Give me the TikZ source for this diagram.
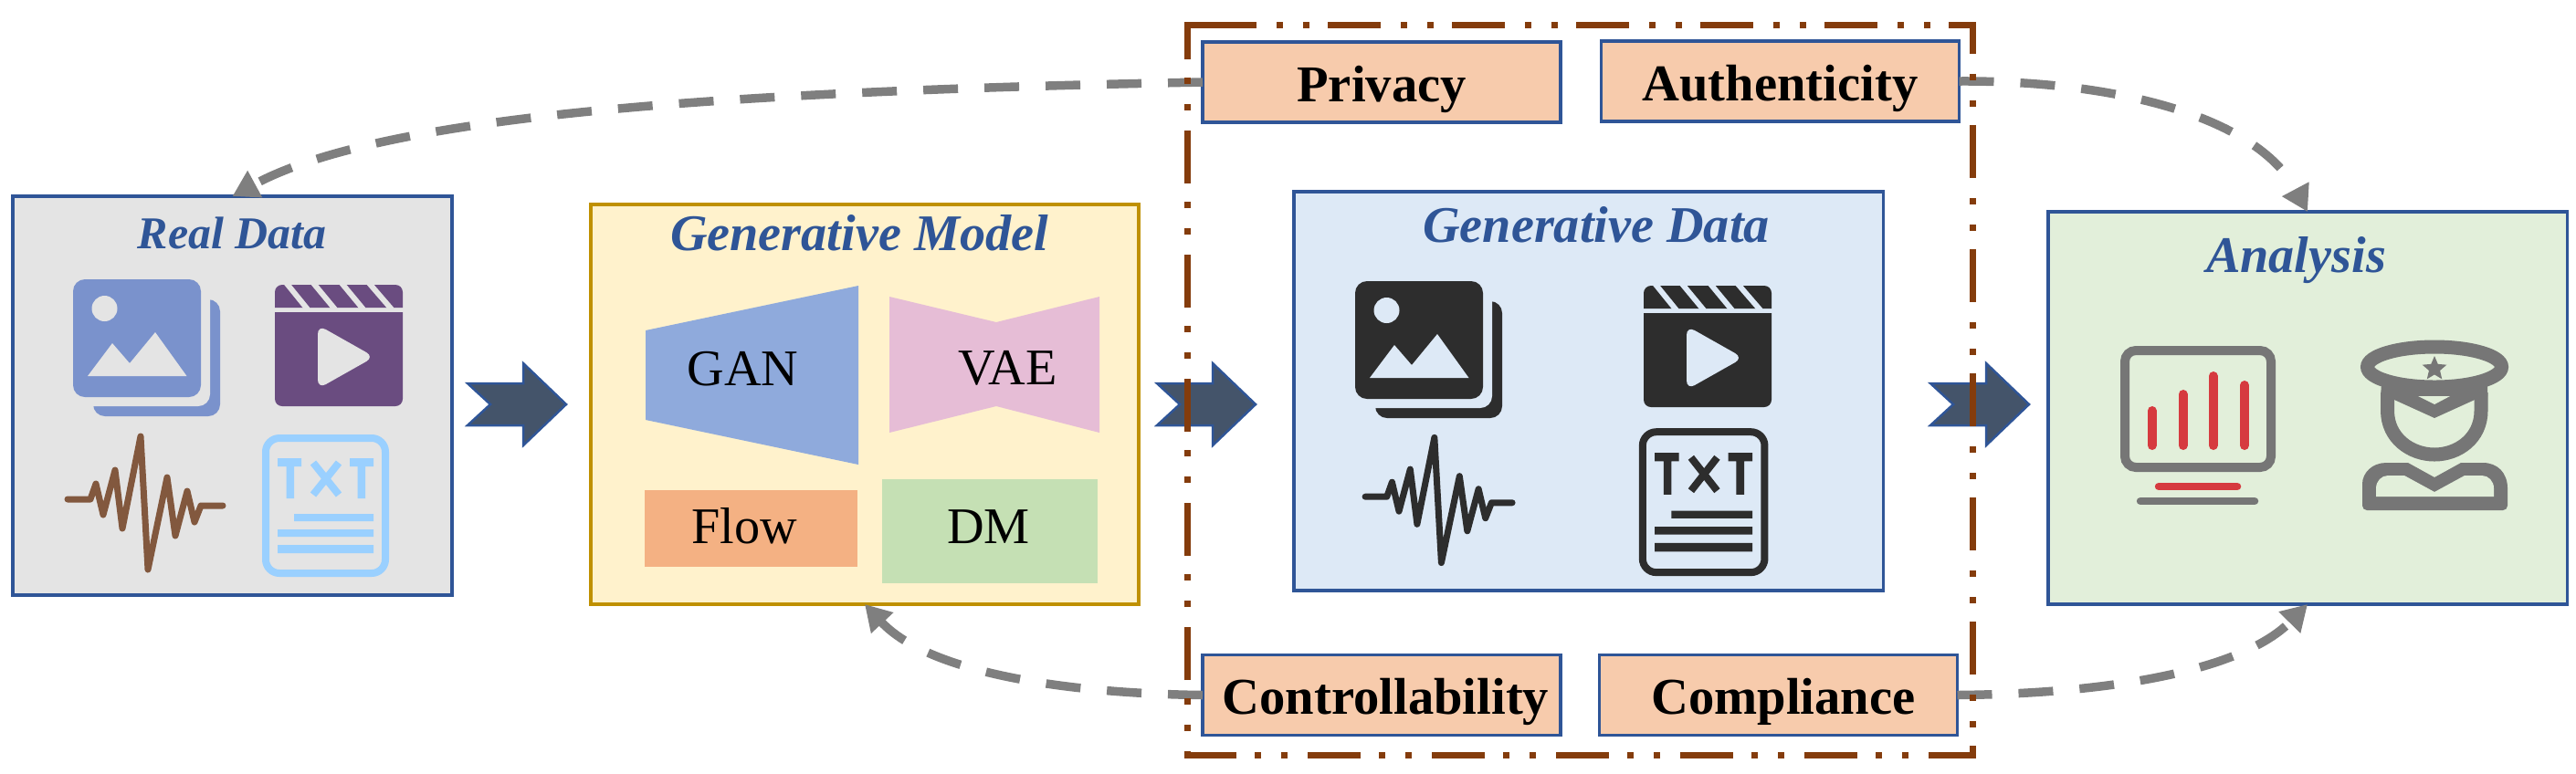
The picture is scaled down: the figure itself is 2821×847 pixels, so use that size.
\documentclass[tikz,border=0pt]{standalone}
\usepackage{fontspec}
\setmainfont{Liberation Serif}
\usepackage{tikz}
\usetikzlibrary{arrows.meta, shapes.geometric}
\definecolor{boxblue}{RGB}{47, 85, 151}
\definecolor{chevblue}{RGB}{68, 84, 106}
\definecolor{linegray}{RGB}{127, 127, 127}
\definecolor{rust}{RGB}{132, 60, 12}
\definecolor{modelgold}{RGB}{191, 144, 0}
\definecolor{realbg}{RGB}{228, 228, 228}
\definecolor{modelbg}{RGB}{255, 242, 204}
\definecolor{genbg}{RGB}{221, 233, 246}
\definecolor{analysisbg}{RGB}{226, 239, 218}
\definecolor{labelbg}{RGB}{247, 203, 172}
\definecolor{ganblue}{RGB}{143, 170, 220}
\definecolor{vaepink}{RGB}{230, 189, 214}
\definecolor{floworange}{RGB}{244, 177, 131}
\definecolor{dmgreen}{RGB}{197, 224, 180}
\definecolor{imgblue}{RGB}{122, 146, 204}
\definecolor{clapviolet}{RGB}{106, 76, 128}
\definecolor{wavebrown}{RGB}{130, 88, 62}
\definecolor{txtblue}{RGB}{154, 208, 255}
\definecolor{icondark}{RGB}{45, 45, 45}
\definecolor{icongray}{RGB}{118, 118, 118}
\definecolor{iconred}{RGB}{214, 58, 63}

\tikzset{
  databox/.style={draw=boxblue, line width=0.35mm, inner sep=0pt, outer sep=0pt},
  labelbox/.style={draw=boxblue, fill=labelbg, line width=0.35mm, inner sep=0pt, outer sep=0pt,
    minimum width=39.2mm, minimum height=8.8mm, text height=5.2mm, text depth=1mm,
    font=\fontsize{16.1pt}{18pt}\selectfont\bfseries},
  boxtitle/.style={anchor=base, inner sep=0pt, text=boxblue, font=\fontsize{16pt}{18pt}\selectfont\bfseries\itshape},
  modeltext/.style={anchor=base, inner sep=0pt, font=\fontsize{16pt}{18pt}\selectfont},
  feedback/.style={draw=linegray, line width=0.95mm, dash pattern=on 3.8mm off 2.9mm,
    -{Triangle[length=8pt, width=9pt]}},
  chevron/.style={fill=chevblue, draw=boxblue, line width=0.25mm},
  dashframe/.style={draw=rust, line width=0.7mm, dash pattern=on 5.8mm off 2.2mm on 0.7mm off 2.2mm on 0.7mm off 2mm}
}

\newcommand{\imageicon}[2]{
  \fill[#1, rounded corners=1.3mm] (102,328) rectangle (241,456);
  \fill[#2, rounded corners=1.3mm] (80,306) rectangle (230,445);
  \fill[#1, rounded corners=1.3mm] (80,306) rectangle (220,435);
  \fill[#2] (114.5,338) circle[radius=14];
  \fill[#2] (96,412) -- (123,376) -- (142,398) -- (170,364) -- (204.5,412) -- cycle;
}
\newcommand{\clappericon}[2]{
  \fill[#1] (301,337) [rounded corners=0.8mm] -- (301,312) -- (441,312) [sharp corners] -- (441,337) -- cycle;
  \foreach \sa/\sb in {313.5/337, 343/367, 374/398, 404/429}
    \draw[#2, line width=0.6mm] (\sa,310) -- (\sb,339);
  \fill[#1] (301,342) -- (441,342) [rounded corners=0.8mm] -- (441,445) -- (301,445) [sharp corners] -- cycle;
  \fill[#2, rounded corners=1mm] (348,356) -- (410,391) -- (348,426) -- cycle;
}
\newcommand{\waveicon}[1]{
  \draw[#1, line width=0.7mm, line cap=round, line join=round]
    (74,547) -- (99,547) -- (105,530) -- (113,564) -- (126,515) -- (134,579) -- (154,478)
    -- (162,624) -- (183,523) -- (192,587) -- (205,538) -- (213,572) -- (220,554) -- (244,554);
}
\newcommand{\txticon}[1]{
  \draw[#1, line width=0.8mm, rounded corners=1.5mm] (291,480) rectangle (422,628);
  \fill[#1] (304,502) rectangle (330,511) (313.5,502) rectangle (322,546);
  \fill[#1] (383,502) rectangle (409,511) (391.5,502) rectangle (400,546);
  \draw[#1, line width=0.8mm] (343,507) -- (371,542) (371,507) -- (343,542);
  \fill[#1] (322,563) rectangle (409,571) (304,580) rectangle (409,588) (304,597) rectangle (409,606);
}

\begin{document}
\begin{tikzpicture}[x=0.1mm, y=-0.1mm]
  \useasboundingbox (0,0) rectangle (2821,847);

  \node[databox, fill=realbg, minimum width=48.1mm, minimum height=43.7mm] (realdata) at (254.5,433.5) {};
  \node[databox, draw=modelgold, fill=modelbg, minimum width=60mm, minimum height=43.8mm] (model) at (947,443) {};
  \node[databox, fill=genbg, minimum width=64.55mm, minimum height=43.7mm] (gendata) at (1739.75,428.5) {};
  \node[databox, fill=analysisbg, minimum width=56.85mm, minimum height=43mm] (analysis) at (2527,447) {};

  \node[labelbox] (privacy) at (1513,90) {Privacy};
  \node[labelbox] (authenticity) at (1949.5,89) {Authenticity};
  \node[labelbox] (controllability) at (1513,761.5) {\hspace*{0.9mm}Controllability};
  \node[labelbox] (compliance) at (1947.5,761.5) {\hspace*{1.1mm}Compliance};

  \node[boxtitle, font=\fontsize{14.2pt}{16pt}\selectfont\bfseries\itshape] (realtitle) at (254,272) {Real Data};
  \node[boxtitle] (modeltitle) at (941,274) {Generative Model};
  \node[boxtitle] (gentitle) at (1748,265) {Generative Data};
  \node[boxtitle] (analysistitle) at (2514.5,298) {Analysis};

  \fill[ganblue] (707,362) -- (940,313) -- (940,509) -- (707,460) -- cycle;
  \fill[vaepink] (974,325) -- (1091,353) -- (1204,325) -- (1204,474) -- (1091,445) -- (974,474) -- cycle;
  \fill[floworange] (706,537) rectangle (939,621);
  \fill[dmgreen] (966,525) rectangle (1202,639);
  \node[modeltext] (gan) at (813.5,422) {GAN};
  \node[modeltext] (vae) at (1103.5,421) {VAE};
  \node[modeltext] (flow) at (815.5,595) {Flow};
  \node[modeltext] (dm) at (1082.5,595) {DM};

  \imageicon{imgblue}{realbg}
  \clappericon{clapviolet}{realbg}
  \waveicon{wavebrown}
  \txticon{txtblue}

  \begin{scope}[shift={(1404,2)}]
    \imageicon{icondark}{genbg}
  \end{scope}
  \begin{scope}[shift={(1499,1)}]
    \clappericon{icondark}{genbg}
  \end{scope}
  \begin{scope}[shift={(1425,30)}, xscale=0.947, yscale=0.94]
    \waveicon{icondark}
  \end{scope}
  \begin{scope}[shift={(1502,-26)}, xscale=1.02, yscale=1.04]
    \txticon{icondark}
  \end{scope}

  \draw[icongray, line width=1mm, rounded corners=1.2mm] (2327,384) rectangle (2487,512);
  \foreach \bx/\by in {2356.6/450, 2390.6/432, 2423.7/412, 2458/422}
    \draw[iconred, line width=1mm, line cap=round] (\bx,488) -- (\bx,\by);
  \draw[iconred, line width=0.85mm, line cap=round] (2364,533) -- (2450,533);
  \draw[icongray, line width=0.85mm, line cap=round] (2344,549) -- (2469,549);

  \draw[icongray, line width=1.5mm] (2666,402) ellipse[x radius=73.5, y radius=22];
  \draw[icongray, line width=1.5mm] (2614.5,430) -- (2614.5,450) .. controls (2614.5,480) and (2640,498) .. (2666,498)
    .. controls (2692,498) and (2717,480) .. (2717,450) -- (2717,430);
  \fill[icongray] (2608,420) -- (2724,420) -- (2724,434) -- (2710,438) -- (2666,458) -- (2622,438) -- (2607,434) -- cycle;
  \fill[analysisbg] (2648,434) -- (2683,434) -- (2666,443) -- cycle;
  \node[star, star points=5, star point ratio=2.2, fill=icongray, inner sep=0pt, minimum size=2.8mm] (policestar) at (2666,404) {};
  \fill[icongray, rounded corners=0.5mm] (2587,559) -- (2587,535) [sharp corners] .. controls (2587,518) and (2598,507) .. (2613,507) -- (2637,507) -- (2666,523)
    -- (2695,507) -- (2719,507) .. controls (2735,507) and (2746,518) .. (2746,535) [rounded corners=0.5mm] -- (2746,559) -- cycle;
  \fill[analysisbg] (2602,544) -- (2602,535) .. controls (2602,527) and (2608,521) .. (2615,521) -- (2633,521) -- (2666,539)
    -- (2699,521) -- (2718,521) .. controls (2725,521) and (2731,527) .. (2731,535) -- (2731,544) -- cycle;

  \draw[feedback] (privacy.west) .. controls (800,100) and (420,125) .. (realdata.north);
  \draw[feedback] (authenticity.east) .. controls (2310,88) and (2470,125) .. (analysis.north);
  \draw[feedback] (controllability.west) .. controls (1180,760) and (1020,740) .. (model.south);
  \draw[feedback] (compliance.east) .. controls (2310,760) and (2455,735) .. (analysis.south);

  \foreach \cx in {512,1267,2114}
    \draw[chevron, shift={(\cx,443)}] (0,-23) -- (61,-23) -- (61,-45) -- (108,0) -- (61,45) -- (61,23) -- (0,23) -- (25,0) -- cycle;

  \draw[dashframe] (1318,27) -- (2160,27) -- (2160,827) -- (1300,827) -- (1300,27) -- cycle;
\end{tikzpicture}
\end{document}
